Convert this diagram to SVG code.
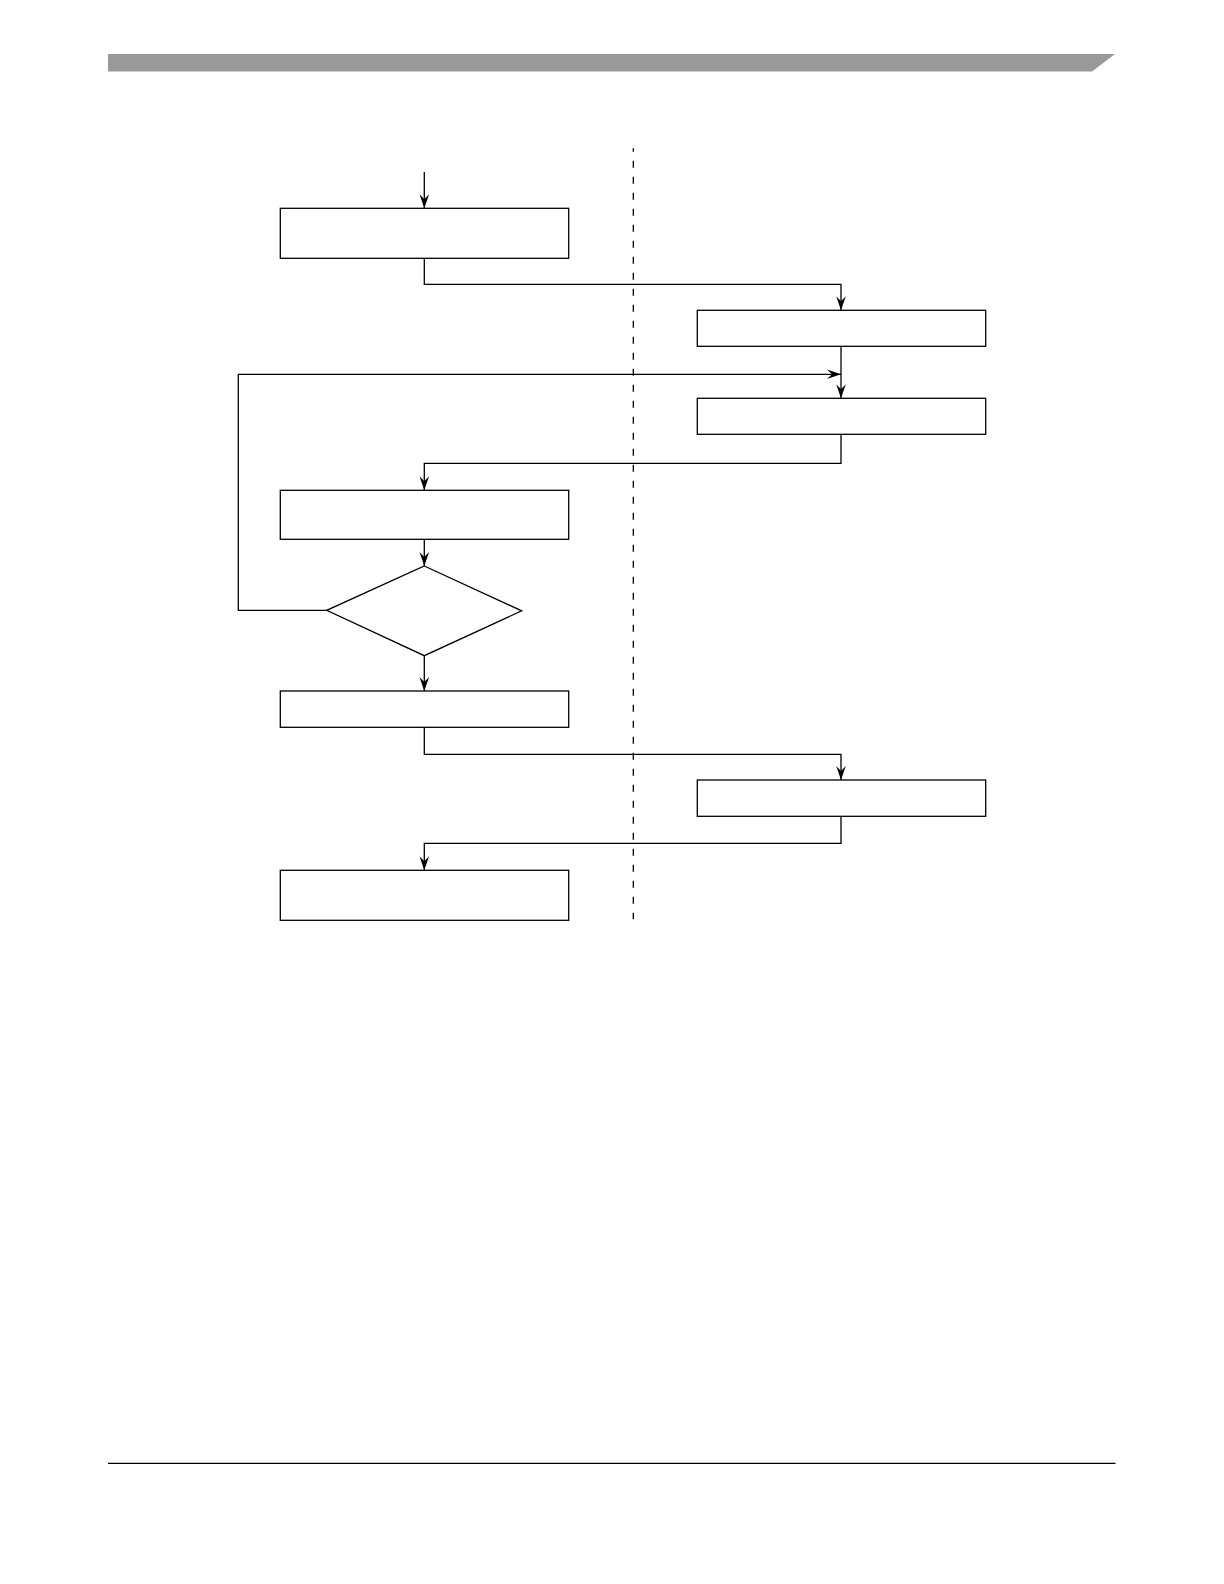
<svg xmlns="http://www.w3.org/2000/svg" width="1224" height="1584" viewBox="0 0 1224 1584">
<style>
.box{fill:#fff;stroke:#000;stroke-width:1.3}
.ln{fill:none;stroke:#000;stroke-width:1.3}
.dash{fill:none;stroke:#000;stroke-width:1.3;stroke-dasharray:7 9;stroke-dashoffset:3.6}
</style>
<defs>
<marker id="ah" viewBox="-14 -6 15 12" refX="0" refY="0" markerWidth="15" markerHeight="12" markerUnits="userSpaceOnUse" orient="auto">
<path d="M0,0 L-14,-4.8 L-9,0 L-14,4.8 Z" fill="#000"/>
</marker>
</defs>
<rect width="1224" height="1584" fill="#fff"/>
<g id="header">
<polygon points="108,54 1115,54 1092,71.5 108,71.5" fill="#999"/>
</g>
<g id="footer">
<line x1="108" y1="1463.3" x2="1115.5" y2="1463.3" class="ln"/>
</g>
<g id="divider">
<line x1="633.3" y1="148.3" x2="633.3" y2="919.3" class="dash"/>
</g>
<g id="connectors">
<polyline class="ln" points="424.3,172 424.3,208.3" marker-end="url(#ah)"/>
<polyline class="ln" points="424.3,258.3 424.3,284.3 841,284.3 841,310.3" marker-end="url(#ah)"/>
<polyline class="ln" points="841,346.3 841,398.3" marker-end="url(#ah)"/>
<polyline class="ln" points="326.7,610.3 238.3,610.3 238.3,374.3 841,374.3" marker-end="url(#ah)"/>
<polyline class="ln" points="841,434.3 841,463.3 424.3,463.3 424.3,490.3" marker-end="url(#ah)"/>
<polyline class="ln" points="424.3,539.3 424.3,566" marker-end="url(#ah)"/>
<polyline class="ln" points="424.3,655.7 424.3,691" marker-end="url(#ah)"/>
<polyline class="ln" points="424.3,727.3 424.3,754.3 841,754.3 841,780" marker-end="url(#ah)"/>
<polyline class="ln" points="841,816.3 841,843.3 424.3,843.3 424.3,870.3" marker-end="url(#ah)"/>
</g>
<g id="node1"><rect class="box" x="280.3" y="208.3" width="288.4" height="50"/></g>
<g id="node2"><rect class="box" x="697.3" y="310.3" width="288.4" height="36"/></g>
<g id="node3"><rect class="box" x="697.3" y="398.3" width="288.4" height="36"/></g>
<g id="node4"><rect class="box" x="280.3" y="490.3" width="288.4" height="49"/></g>
<g id="decision"><polygon class="box" points="424.3,566 521.7,610.8 424.3,655.7 326.7,610.3"/></g>
<g id="node5"><rect class="box" x="280.3" y="691" width="288.4" height="36.3"/></g>
<g id="node6"><rect class="box" x="697.3" y="780" width="288.4" height="36.3"/></g>
<g id="node7"><rect class="box" x="280.3" y="870.3" width="288.4" height="50"/></g>
</svg>
